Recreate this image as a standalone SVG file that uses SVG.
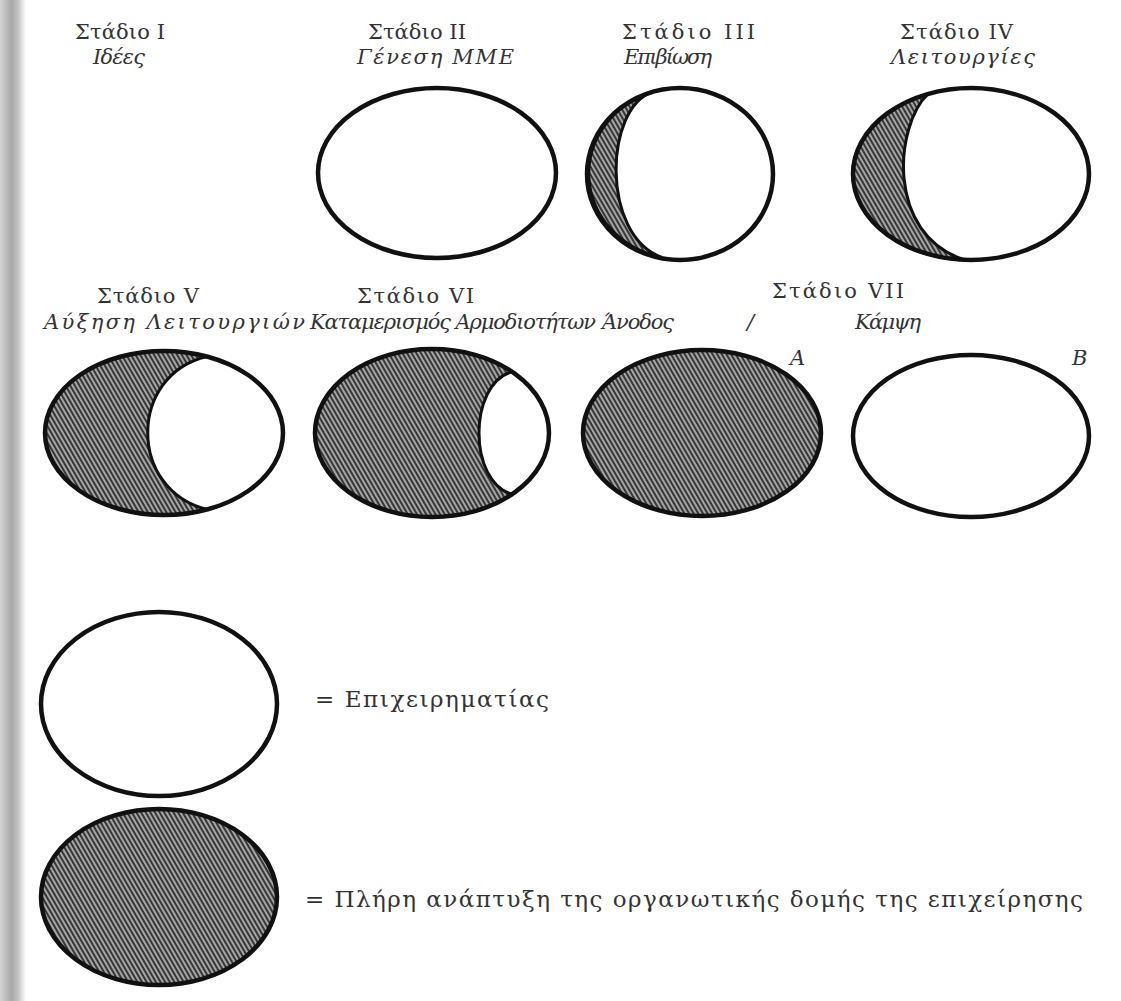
<svg xmlns="http://www.w3.org/2000/svg" width="1121" height="1001" viewBox="0 0 1121 1001">
<defs>
  <pattern id="hatch" width="4" height="4" patternUnits="userSpaceOnUse" patternTransform="rotate(-30)">
    <rect width="4" height="4" fill="#363636"/>
    <line x1="2" y1="0" x2="2" y2="4" stroke="#f0f0f0" stroke-width="1.2"/>
  </pattern>
  <linearGradient id="edge" x1="0" y1="0" x2="1" y2="0">
    <stop offset="0" stop-color="#d4d4d4"/>
    <stop offset="0.45" stop-color="#a8a8a8"/>
    <stop offset="0.7" stop-color="#c4c4c4"/>
    <stop offset="1" stop-color="#ffffff"/>
  </linearGradient>
</defs>
<style>
  .lbl { font-family: "DejaVu Serif", "Liberation Serif", serif; font-size: 21px; fill: #333; }
  .it { font-style: italic; }
  .leg { font-family: "DejaVu Serif", "Liberation Serif", serif; font-size: 23px; fill: #333; }
  .ring { fill: none; stroke: #111; stroke-width: 4.5; }
  .blank { fill: #fff; }
  .sh { fill: url(#hatch); stroke: #111; stroke-width: 3; }
  .full { fill: url(#hatch); stroke: #111; stroke-width: 4.5; }
</style>
<rect width="1121" height="1001" fill="#fff"/>
<rect x="0" y="0" width="26" height="1001" fill="url(#edge)"/>

<g id="stage1">
  <text class="lbl" x="75" y="39" textLength="90" lengthAdjust="spacing">Στάδιο I</text>
  <text class="lbl it" x="93" y="64" textLength="52" lengthAdjust="spacing">Ιδέες</text>
</g>

<g id="stage2">
  <text class="lbl" x="368" y="39" textLength="98" lengthAdjust="spacing">Στάδιο II</text>
  <text class="lbl it" x="357" y="64" textLength="157" lengthAdjust="spacing">Γένεση ΜΜΕ</text>
  <ellipse class="blank" cx="437" cy="173" rx="119" ry="85"/>
  <ellipse class="ring" cx="437" cy="173" rx="119" ry="85"/>
</g>

<g id="stage3">
  <text class="lbl" x="622" y="39" textLength="133" lengthAdjust="spacing">Στάδιο III</text>
  <text class="lbl it" x="624" y="64" textLength="88" lengthAdjust="spacing">Επιβίωση</text>
  <ellipse class="blank" cx="680" cy="174" rx="93" ry="86"/>
  <path class="sh" d="M652,92 A93,86 0 0 0 662,257.5 C600,235 605,108 652,92 Z"/>
  <ellipse class="ring" cx="680" cy="174" rx="93" ry="86"/>
</g>

<g id="stage4">
  <text class="lbl" x="900" y="39" textLength="113" lengthAdjust="spacing">Στάδιο IV</text>
  <text class="lbl it" x="891" y="64" textLength="144" lengthAdjust="spacing">Λειτουργίες</text>
  <ellipse class="blank" cx="971" cy="174" rx="118" ry="86"/>
  <path class="sh" d="M928,94 A118,86 0 0 0 965,260 C885,235 895,125 928,94 Z"/>
  <ellipse class="ring" cx="971" cy="174" rx="118" ry="86"/>
</g>

<g id="stage5">
  <text class="lbl" x="97" y="303" textLength="102" lengthAdjust="spacing">Στάδιο V</text>
  <text class="lbl it" x="44" y="329" textLength="261" lengthAdjust="spacing">Αύξηση Λειτουργιών</text>
  <ellipse class="blank" cx="164" cy="433" rx="119" ry="82"/>
  <path class="sh" d="M207,356.5 A119,82 0 1 0 207,509.5 C128,490 128,375 207,356.5 Z"/>
  <ellipse class="ring" cx="164" cy="433" rx="119" ry="82"/>
</g>

<g id="stage6">
  <text class="lbl" x="357" y="303" textLength="117" lengthAdjust="spacing">Στάδιο VI</text>
  <text class="lbl it" x="310" y="329" textLength="286" lengthAdjust="spacing">Καταμερισμός Αρμοδιοτήτων</text>
  <ellipse class="blank" cx="432" cy="433" rx="117" ry="84"/>
  <path class="sh" d="M512,371.7 A117,84 0 1 0 512,494.3 C468,482 468,384 512,371.7 Z"/>
  <ellipse class="ring" cx="432" cy="433" rx="117" ry="84"/>
</g>

<g id="stage7">
  <text class="lbl" x="772" y="298" textLength="132" lengthAdjust="spacing">Στάδιο VII</text>
  <text class="lbl it" x="602" y="329" textLength="72" lengthAdjust="spacing">Άνοδος</text>
  <text class="lbl it" x="747" y="329">/</text>
  <text class="lbl it" x="855" y="329" textLength="66" lengthAdjust="spacing">Κάμψη</text>
</g>

<g id="stage7a">
  <ellipse class="full" cx="702" cy="433" rx="119" ry="83"/>
  <text class="lbl it" x="790" y="365">A</text>
</g>

<g id="stage7b">
  <ellipse class="blank" cx="971" cy="436" rx="118" ry="81"/>
  <ellipse class="ring" cx="971" cy="436" rx="118" ry="81"/>
  <text class="lbl it" x="1072" y="365">B</text>
</g>

<g id="legend-entrepreneur">
  <ellipse class="blank" cx="159" cy="704" rx="118" ry="92"/>
  <ellipse class="ring" cx="159" cy="704" rx="118" ry="92"/>
  <text class="leg" x="315" y="707" textLength="234" lengthAdjust="spacing">= Επιχειρηματίας</text>
</g>

<g id="legend-full">
  <ellipse class="full" cx="159" cy="897" rx="118" ry="88"/>
  <text class="leg" x="305" y="907" textLength="778" lengthAdjust="spacing">= Πλήρη ανάπτυξη της οργανωτικής δομής της επιχείρησης</text>
</g>

<g id="connectors"></g>
</svg>
